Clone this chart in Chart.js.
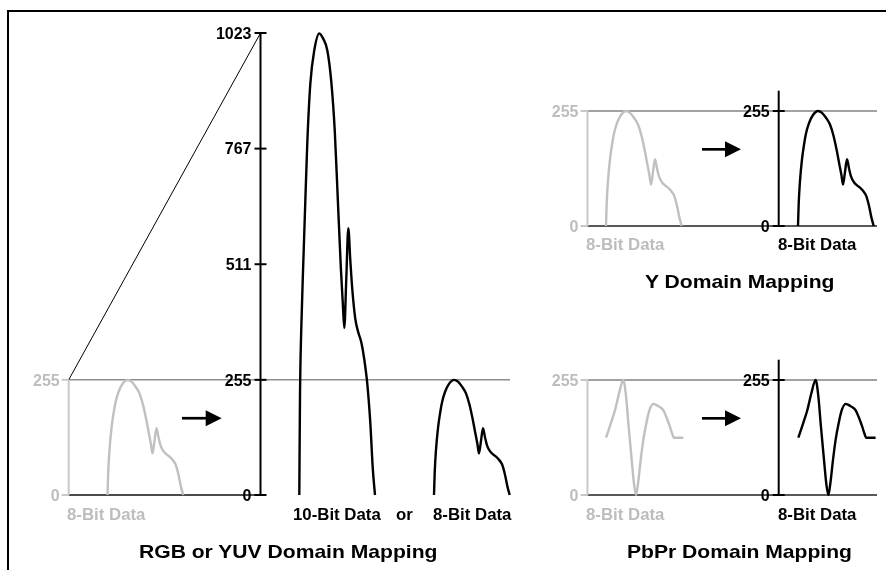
<!DOCTYPE html>
<html><head><meta charset="utf-8">
<script src="https://cdn.jsdelivr.net/npm/chart.js@4.4.0/dist/chart.umd.min.js"></script>
<style>
html,body{margin:0;padding:0;background:#fff;width:886px;height:570px;overflow:hidden;position:relative;font-family:"Liberation Sans",Arial,Helvetica,sans-serif;}
.frame{position:absolute;left:7px;top:10px;width:900px;height:600px;border-left:2px solid #000;border-top:2px solid #000;}
canvas{position:absolute;}
.t{position:absolute;font-weight:bold;white-space:nowrap;transform-origin:0 0;line-height:1;}
.cap{font-size:16px;transform:scaleX(1.05);}
.ttl{font-size:19px;transform:scaleX(1.11);color:#000;}
.g{color:#bdbdbd;}
.k{color:#000;}
</style></head><body>
<div class="frame"></div>
<canvas id="rgb" width="530" height="570" style="left:0;top:0"></canvas>
<canvas id="ydom" width="356" height="300" style="left:530px;top:0"></canvas>
<canvas id="pbpr" width="356" height="270" style="left:530px;top:300px"></canvas>

<div class="t cap g" style="left:67px;top:507px">8-Bit Data</div>
<div class="t cap k" style="left:293px;top:507px">10-Bit Data</div>
<div class="t cap k" style="left:396px;top:507px">or</div>
<div class="t cap k" style="left:433px;top:507px">8-Bit Data</div>
<div class="t ttl" style="left:139px;top:542px">RGB or YUV Domain Mapping</div>

<div class="t cap g" style="left:586px;top:237px">8-Bit Data</div>
<div class="t cap k" style="left:778px;top:237px">8-Bit Data</div>
<div class="t ttl" style="left:645px;top:272px">Y Domain Mapping</div>

<div class="t cap g" style="left:586px;top:507px">8-Bit Data</div>
<div class="t cap k" style="left:778px;top:507px">8-Bit Data</div>
<div class="t ttl" style="left:627px;top:542px">PbPr Domain Mapping</div>

<script>
// ---- data ----
const hTime     = [0, 0.7, 2, 4, 6, 8, 11, 15, 20, 24, 28, 32, 35.5, 38.5, 41.5, 43.5, 45, 47, 49, 51, 53, 56, 59, 62, 65, 68, 71, 73.5, 75.7];
const hLevels10 = [0, 220, 370, 515, 650, 780, 910, 985, 1022, 1010, 985, 915, 805, 655, 505, 425, 370, 480, 591, 520, 455, 390, 360, 338, 300, 246, 160, 58, 0];
const hLevels8  = [0, 50, 100, 148, 180, 205, 228, 246, 255, 251, 240, 225, 200, 170, 135, 112, 92, 120, 148, 128, 110, 97, 90, 85, 78, 68, 45, 18, 0];
const cTime     = [0, 5, 9, 13, 17.3, 20, 22.5, 25.7, 28, 30, 32, 34.7, 37.5, 40, 43, 47.3, 50, 53, 57.3, 60, 64, 66, 68, 72, 77.3];
const cLevels8  = [127, 160, 188, 225, 255, 220, 155, 78, 25, 0, 25, 78, 125, 155, 185, 202, 200, 196, 188, 175, 151, 137, 127, 127, 127];
const tenBitTicks   = [0, 255, 511, 767, 1023];
const eightBitTicks = [0, 255];
const arrowLevel = 170;

// ---- styles ----
const GRAY = '#c0c0c0', GRAYTXT = '#bdbdbd', BLACK = '#000';
const TICKFONT = 'bold 16px "Liberation Sans", Arial, sans-serif';

function curve(times, levels, start, color) {
  return {
    data: times.map((t, i) => ({x: start + t, y: levels[i]})),
    borderColor: color, borderWidth: 2.4, pointRadius: 0,
    cubicInterpolationMode: 'monotone', fill: false, clip: false
  };
}
function segment(x0, v0, x1, v1, color, w) {
  return {data: [{x: x0, y: v0}, {x: x1, y: v1}], borderColor: color, borderWidth: w,
          pointRadius: 0, tension: 0, fill: false, clip: false};
}

const diagramPlugin = {
  id: 'diagram',
  beforeDatasetsDraw(chart, args, o) {
    const ctx = chart.ctx, xs = chart.scales.x, ys = chart.scales.y;
    ctx.save();
    (o.refLines || []).forEach(r => {
      const y = ys.getPixelForValue(r.level);
      ctx.beginPath(); ctx.strokeStyle = r.color; ctx.lineWidth = r.width;
      ctx.moveTo(xs.getPixelForValue(r.from), y); ctx.lineTo(xs.getPixelForValue(r.to), y); ctx.stroke();
    });
    ctx.restore();
  },
  afterDatasetsDraw(chart, args, o) {
    const ctx = chart.ctx, xs = chart.scales.x, ys = chart.scales.y;
    ctx.save();
    (o.axes || []).forEach(a => {
      const x = xs.getPixelForValue(a.at);
      ctx.beginPath(); ctx.strokeStyle = a.color; ctx.lineWidth = 2;
      ctx.moveTo(x, ys.getPixelForValue(a.from)); ctx.lineTo(x, ys.getPixelForValue(a.to)); ctx.stroke();
      ctx.font = TICKFONT; ctx.textAlign = 'right'; ctx.textBaseline = 'alphabetic';
      a.ticks.forEach(v => {
        const y = ys.getPixelForValue(v);
        ctx.beginPath(); ctx.strokeStyle = a.color; ctx.lineWidth = 2;
        ctx.moveTo(x - a.tickIn, y); ctx.lineTo(x + a.tickOut, y); ctx.stroke();
        ctx.fillStyle = a.textColor;
        ctx.fillText(String(v), x - 9, y + 5.8);
      });
    });
    (o.arrows || []).forEach(r => {
      const y = ys.getPixelForValue(r.level);
      const x0 = xs.getPixelForValue(r.from), x1 = xs.getPixelForValue(r.to);
      ctx.beginPath(); ctx.strokeStyle = BLACK; ctx.lineWidth = 2.7;
      ctx.moveTo(x0, y); ctx.lineTo(x1 - 12, y); ctx.stroke();
      ctx.beginPath(); ctx.fillStyle = BLACK;
      ctx.moveTo(x1, y); ctx.lineTo(x1 - 16, y - 8); ctx.lineTo(x1 - 16, y + 8); ctx.closePath(); ctx.fill();
    });
    ctx.restore();
  }
};

function baseOptions(xmin, xmax, ymax, padTop, padBottom, diagram) {
  return {
    responsive: false, animation: false, events: [],
    layout: {padding: {top: padTop, bottom: padBottom, left: 0, right: 0}},
    scales: {
      x: {type: 'linear', display: false, min: xmin, max: xmax},
      y: {type: 'linear', display: false, min: 0, max: ymax}
    },
    plugins: {legend: {display: false}, tooltip: {enabled: false}, diagram: diagram}
  };
}

// RGB / YUV panel
new Chart(document.getElementById('rgb'), {
  type: 'line',
  data: {datasets: [
    segment(68.7, 255, 260.5, 1023, BLACK, 1),
    curve(hTime, hLevels8, 107.5, GRAY),
    curve(hTime, hLevels10, 299.3, BLACK),
    curve(hTime, hLevels8, 434, BLACK)
  ]},
  options: baseOptions(0, 530, 1023, 33, 75, {
    refLines: [
      {level: 255, from: 68.7, to: 510, color: '#555', width: 1},
      {level: 0, from: 68.7, to: 266, color: '#111', width: 1.5}
    ],
    axes: [
      {at: 68.7, from: 0, to: 255, ticks: eightBitTicks, color: '#c8c8c8', textColor: GRAYTXT, tickIn: 7, tickOut: 0},
      {at: 260.5, from: 0, to: 1023, ticks: tenBitTicks, color: BLACK, textColor: BLACK, tickIn: 6, tickOut: 6}
    ],
    arrows: [{from: 182, to: 221.7, level: arrowLevel}]
  }),
  plugins: [diagramPlugin]
});

// Y domain panel
new Chart(document.getElementById('ydom'), {
  type: 'line',
  data: {datasets: [
    curve(hTime, hLevels8, 606, GRAY),
    curve(hTime, hLevels8, 798, BLACK)
  ]},
  options: baseOptions(530, 886, 255, 111, 74, {
    refLines: [
      {level: 255, from: 587.5, to: 877, color: '#444', width: 1},
      {level: 0, from: 587.5, to: 877, color: '#222', width: 1.5}
    ],
    axes: [
      {at: 587.5, from: 0, to: 255, ticks: eightBitTicks, color: '#c8c8c8', textColor: GRAYTXT, tickIn: 7, tickOut: 0},
      {at: 778.7, from: 0, to: 300, ticks: eightBitTicks, color: BLACK, textColor: BLACK, tickIn: 6, tickOut: 6}
    ],
    arrows: [{from: 702, to: 741, level: arrowLevel}]
  }),
  plugins: [diagramPlugin]
});

// PbPr domain panel
new Chart(document.getElementById('pbpr'), {
  type: 'line',
  data: {datasets: [
    curve(cTime, cLevels8, 606, GRAY),
    curve(cTime, cLevels8, 798.3, BLACK)
  ]},
  options: baseOptions(530, 886, 255, 80, 75, {
    refLines: [
      {level: 255, from: 587.5, to: 877, color: '#444', width: 1},
      {level: 0, from: 587.5, to: 877, color: '#222', width: 1.5}
    ],
    axes: [
      {at: 587.5, from: 0, to: 255, ticks: eightBitTicks, color: '#c8c8c8', textColor: GRAYTXT, tickIn: 7, tickOut: 0},
      {at: 778.7, from: 0, to: 300, ticks: eightBitTicks, color: BLACK, textColor: BLACK, tickIn: 6, tickOut: 6}
    ],
    arrows: [{from: 702, to: 741, level: arrowLevel}]
  }),
  plugins: [diagramPlugin]
});
</script>
</body></html>
